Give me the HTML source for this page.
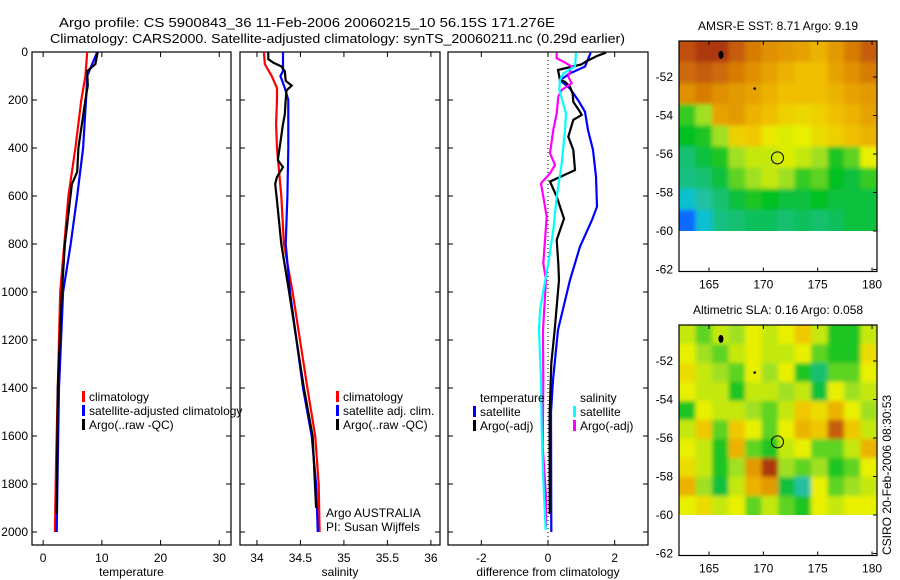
<!DOCTYPE html>
<html><head><meta charset="utf-8"><style>
html,body{margin:0;padding:0;background:#fff;}
svg{display:block;font-family:"Liberation Sans",sans-serif;}
</style></head><body>
<svg id="fig" width="900" height="580" viewBox="0 0 900 580" xmlns="http://www.w3.org/2000/svg">
<defs>
<filter id="blur" x="-5%" y="-5%" width="110%" height="110%"><feGaussianBlur stdDeviation="2.2"/></filter>
<clipPath id="clipTop"><rect x="679" y="41" width="198" height="190"/></clipPath>
<clipPath id="clipBot"><rect x="679" y="325" width="198" height="190"/></clipPath>
</defs>
<text x="59" y="27" font-size="13" text-anchor="start" textLength="496" lengthAdjust="spacingAndGlyphs">Argo profile: CS 5900843_36 11-Feb-2006 20060215_10 56.15S 171.276E</text>
<text x="50" y="43" font-size="13" text-anchor="start" textLength="575" lengthAdjust="spacingAndGlyphs">Climatology: CARS2000. Satellite-adjusted climatology: synTS_20060211.nc (0.29d earlier)</text>
<g id="g"></g>
</svg>
<script>
// ---- profile data ----
const tDepthRed=[0,100,200,400,600,800,1000,1400,1700,2000];
const tRed=[7.5,7.2,6.5,5.5,4.3,3.6,2.9,2.5,2.2,2.0];
const tDepthBlue=[0,100,200,400,600,800,1000,1400,1700,2000];
const tBlue=[9.2,7.5,7.3,6.8,5.8,4.7,3.4,2.7,2.5,2.3];
const tDepthArgo=[0,50,80,140,200,400,500,550,800,1000,1400,1925];
const tArgo=[9.3,8.9,7.5,7.6,7.2,6.0,5.8,4.9,3.7,3.2,2.5,2.3];

const sDepthRed=[0,50,100,150,200,300,400,600,800,1000,1400,1600,1800,2000];
const sRed=[34.08,34.09,34.17,34.23,34.23,34.22,34.23,34.28,34.31,34.41,34.58,34.67,34.71,34.72];
const sDepthBlue=[0,80,100,150,200,400,600,800,1000,1400,1600,1800,2000];
const sBlue=[34.30,34.30,34.27,34.32,34.36,34.36,34.35,34.33,34.38,34.53,34.63,34.68,34.70];
const sDepthArgo=[0,30,45,60,80,120,140,160,200,260,300,400,450,480,520,550,620,800,1000,1400,1600,1900];
const sArgo=[34.13,34.13,34.19,34.28,34.32,34.33,34.40,34.34,34.33,34.32,34.30,34.26,34.24,34.30,34.23,34.21,34.23,34.28,34.37,34.54,34.64,34.68];

const dDepthTSat=[3,61,89,117,152,200,249,325,408,519,644,700,811,950,1158,1367,1500,2000];
const dTSat=[1.28,1.11,0.66,0.36,0.66,0.9,1.11,1.2,1.35,1.44,1.47,1.32,0.96,0.66,0.3,0.15,0.09,0.1];
const dDepthTArgo=[3,17,38,52,75,117,124,145,174,208,249,262,283,353,408,492,540,603,694,783,881,950,1158,1297,1500,1925];
const dTArgo=[1.74,1.46,1.16,1.0,0.3,0.36,0.51,0.66,0.74,0.76,0.96,1.01,0.76,0.61,0.76,0.81,0.06,0.26,0.48,0.26,0.31,0.33,0.2,0.1,0.05,0.05];
const dDepthSSat=[3,61,89,117,158,256,325,464,603,742,881,1075,1158,1367,1575,1783,1992];
const dSSat=[0.84,0.81,0.46,0.36,0.34,0.54,0.51,0.41,0.26,0.16,0.01,-0.24,-0.27,-0.21,-0.19,-0.14,-0.07];
const dDepthSArgo=[3,26,40,61,103,131,158,186,256,325,422,471,506,547,686,881,950,1158,1367,1644,1853,1978];
const dSArgo=[0.26,0.26,0.46,0.71,0.61,0.71,0.41,0.31,0.26,0.16,0.06,0.21,0.06,-0.21,-0.04,-0.14,-0.06,-0.15,-0.14,-0.16,-0.06,-0.06];

const depthTicks=[0,200,400,600,800,1000,1200,1400,1600,1800,2000];
const tTicks=[0,10,20,30];
const sTicks=[34,34.5,35,35.5,36];
const dTicks=[-2,0,2];

// ---- map data (rows north->south, cols west->east) ----
const sstGrid=[
[0.92,0.95,0.95,0.9,0.85,0.82,0.8,0.78,0.75,0.8,0.85,0.9],
[0.88,0.9,0.88,0.85,0.82,0.78,0.75,0.72,0.72,0.78,0.82,0.85],
[0.82,0.85,0.82,0.8,0.78,0.75,0.72,0.72,0.72,0.75,0.78,0.8],
[0.42,0.5,0.78,0.8,0.75,0.72,0.68,0.66,0.68,0.72,0.75,0.78],
[0.38,0.4,0.5,0.68,0.7,0.62,0.58,0.6,0.65,0.68,0.72,0.75],
[0.3,0.35,0.4,0.5,0.55,0.55,0.58,0.55,0.5,0.4,0.45,0.6],
[0.28,0.3,0.35,0.45,0.5,0.55,0.5,0.42,0.45,0.38,0.35,0.42],
[0.2,0.25,0.3,0.35,0.4,0.38,0.35,0.35,0.38,0.35,0.35,0.35],
[0.05,0.2,0.28,0.3,0.32,0.32,0.3,0.32,0.3,0.32,0.35,0.35]];
const slaGrid=[
[0.55,0.45,0.55,0.5,0.6,0.55,0.6,0.7,0.55,0.4,0.4,0.55],
[0.6,0.5,0.45,0.55,0.6,0.55,0.55,0.6,0.45,0.4,0.4,0.65],
[0.65,0.55,0.5,0.45,0.6,0.5,0.6,0.4,0.3,0.45,0.45,0.6],
[0.6,0.55,0.55,0.4,0.55,0.55,0.5,0.55,0.35,0.6,0.5,0.55],
[0.4,0.6,0.55,0.55,0.5,0.45,0.55,0.7,0.65,0.75,0.6,0.5],
[0.55,0.7,0.45,0.7,0.6,0.45,0.6,0.75,0.7,0.9,0.7,0.55],
[0.6,0.55,0.4,0.75,0.45,0.4,0.55,0.6,0.45,0.45,0.55,0.75],
[0.65,0.55,0.4,0.5,0.8,0.95,0.5,0.45,0.5,0.4,0.45,0.6],
[0.75,0.5,0.35,0.55,0.75,0.8,0.35,0.25,0.6,0.45,0.5,0.55],
[0.6,0.65,0.55,0.6,0.45,0.55,0.45,0.4,0.6,0.55,0.6,0.6]];
const lonTicks=[165,170,175,180];
const latTicks=[-52,-54,-56,-58,-60,-62];
const argoLon=171.3, argoLat=-56.2;

const NS="http://www.w3.org/2000/svg";
const G=document.getElementById('g');
function mk(tag,attrs,parent){const e=document.createElementNS(NS,tag);for(const k in attrs)e.setAttribute(k,attrs[k]);(parent||G).appendChild(e);return e;}
function txt(x,y,s,size,anchor,parent){const e=mk('text',{x:x,y:y,'font-size':size||12,'text-anchor':anchor||'middle'},parent);e.textContent=s;return e;}

const PT=52,PB=545;
const yD=d=>PT+d*0.24;

function panel(name,x0,x1,vmin,vmax,ticks,label,showY){
  const g=mk('g',{});
  
  
  const xs=v=>x0+(v-vmin)/(vmax-vmin)*(x1-x0);
  const fr=mk('rect',{x:x0,y:PT,width:x1-x0,height:PB-PT,fill:'none',stroke:'#000','stroke-width':1.2},g);
  
  
  depthTicks.forEach(d=>{
    mk('line',{x1:x0,x2:x0+5,y1:yD(d),y2:yD(d),stroke:'#000'},g);
    mk('line',{x1:x1,x2:x1-5,y1:yD(d),y2:yD(d),stroke:'#000'},g);
    if(showY){const t=txt(x0-4,yD(d)+4,String(d),12,'end',g);
      
      }
  });
  ticks.forEach(v=>{
    mk('line',{x1:xs(v),x2:xs(v),y1:PT,y2:PT+5,stroke:'#000'},g);
    mk('line',{x1:xs(v),x2:xs(v),y1:PB,y2:PB-5,stroke:'#000'},g);
    const t=txt(xs(v),PB+17,String(v),12,'middle',g);
    
    
  });
  const l=txt((x0+x1)/2,PB+31,label,12,'middle',g);
  
  
  return {g,xs};
}
function line(p,depths,vals,color,name,w){
  const pts=depths.map((d,i)=>p.xs(vals[i]).toFixed(1)+','+yD(d).toFixed(1)).join(' ');
  const e=mk('polyline',{points:pts,fill:'none',stroke:color,'stroke-width':w||2.2},p.g);
  
  
}
function legend(p,x,y,items,name){
  const g=mk('g',{},p.g);
  
  
  items.forEach((it,i)=>{
    if(it[1]) mk('rect',{x:x,y:y+i*14-10,width:3,height:11,fill:it[1]},g);
    const t=txt(x+7,y+i*14,it[0],12,'start',g);
    
    
  });
}

// Panel 1
const p1=panel('temperature-panel',32,231,-1.9,32.0,tTicks,'temperature',true);
line(p1,tDepthRed,tRed,'#f00','temp-climatology-line');
line(p1,tDepthBlue,tBlue,'#00f','temp-satellite-line');
line(p1,tDepthArgo,tArgo,'#000','temp-argo-line');
legend(p1,82,401,[['climatology','#f00'],['satellite-adjusted climatology','#00f'],['Argo(..raw -QC)','#000']],'temperature-legend');

// Panel 2
const p2=panel('salinity-panel',240,440,33.805,36.105,sTicks,'salinity',false);
line(p2,sDepthRed,sRed,'#f00','sal-climatology-line');
line(p2,sDepthBlue,sBlue,'#00f','sal-satellite-line');
line(p2,sDepthArgo,sArgo,'#000','sal-argo-line');
legend(p2,336,401,[['climatology','#f00'],['satellite adj. clim.','#00f'],['Argo(..raw -QC)','#000']],'salinity-legend');
const pa=txt(326,517,'Argo AUSTRALIA',12,'start',p2.g);
const pb=txt(326,531,'PI: Susan Wijffels',12,'start',p2.g);

// Panel 3
const p3=panel('difference-panel',448,648,-3.0,3.0,dTicks,'difference from climatology',false);
const z=mk('line',{x1:p3.xs(0),x2:p3.xs(0),y1:PT,y2:PB,stroke:'#000','stroke-dasharray':'1,3'},p3.g);

line(p3,dDepthTSat,dTSat,'#00f','diff-temp-satellite-line');
line(p3,dDepthTArgo,dTArgo,'#000','diff-temp-argo-line');
line(p3,dDepthSArgo,dSArgo,'#f0f','diff-sal-argo-line');
line(p3,dDepthSSat,dSSat,'#0ff','diff-sal-satellite-line');
legend(p3,473,402,[['temperature',null],['satellite','#00f'],['Argo(-adj)','#000']],'diff-temperature-legend');
legend(p3,573,402,[['salinity',null],['satellite','#0ff'],['Argo(-adj)','#f0f']],'diff-salinity-legend');

// colormap
const cstops=[[0,[16,64,255]],[0.15,[0,192,255]],[0.25,[32,192,160]],[0.38,[0,192,32]],[0.5,[160,224,32]],[0.6,[232,240,0]],[0.72,[240,192,0]],[0.82,[224,144,0]],[0.92,[192,80,16]],[1,[144,16,0]]];
function cmap(v){for(let i=1;i<cstops.length;i++){if(v<=cstops[i][0]){const a=cstops[i-1],b=cstops[i],t=(v-a[0])/(b[0]-a[0]);const c=a[1].map((x,k)=>Math.round(x+(b[1][k]-x)*t));return 'rgb('+c.join(',')+')';}}return 'rgb(144,16,0)';}

function mapPanel(name,top,grid,title,clip){
  const g=mk('g',{});
  
  
  const x0=679,x1=877;
  const lx=lon=>709+(lon-165)*10.87;
  const ly=lat=>top+36+(-52-lat)*19.25;
  const gy0=ly(-50.13), gy1=ly(-60);
  const lon0=162.24, lon1=180.45;
  const rows=grid.length, cols=grid[0].length;
  const cg=mk('g',{'clip-path':'url(#'+clip+')'},g);
  const bg=mk('g',{filter:'url(#blur)'},cg);
  grid.forEach((row,r)=>row.forEach((v,c)=>{
    let xa=lx(lon0+(lon1-lon0)*c/cols), xb=lx(lon0+(lon1-lon0)*(c+1)/cols);
    let ya=gy0+(gy1-gy0)*r/rows, yb=gy0+(gy1-gy0)*(r+1)/rows;
    if(c===0)xa-=8; if(c===cols-1)xb+=8; if(r===0)ya-=8; if(r===rows-1)yb+=8;
    const e=mk('rect',{x:xa.toFixed(1),y:ya.toFixed(1),width:(xb-xa+0.6).toFixed(1),height:(yb-ya+0.6).toFixed(1),fill:cmap(v)},bg);
    
    
  }));
  const fr=mk('rect',{x:x0,y:ly(-50.13),width:x1-x0,height:ly(-62)-ly(-50.13)+2,fill:'none',stroke:'#000','stroke-width':1.2},g);
  
  const by=ly(-62)+2;
  lonTicks.forEach(l=>{
    mk('line',{x1:lx(l),x2:lx(l),y1:ly(-50.13),y2:ly(-50.13)+4,stroke:'#000'},g);
    mk('line',{x1:lx(l),x2:lx(l),y1:by,y2:by-4,stroke:'#000'},g);
    const t=txt(lx(l),by+17,String(l),12,'middle',g);
    
  });
  latTicks.forEach(l=>{
    mk('line',{x1:x1,x2:x1-4,y1:ly(l),y2:ly(l),stroke:'#000'},g);
    const t=txt(x0-6,ly(l)+4,String(l),12,'end',g);
    
  });
  mk('ellipse',{cx:lx(166.1),cy:ly(-50.85),rx:2.5,ry:4,fill:'#000'},g);
  mk('circle',{cx:lx(169.2),cy:ly(-52.6),r:1.3,fill:'#000'},g);
  const m=mk('circle',{cx:lx(argoLon),cy:ly(argoLat),r:6,fill:'none',stroke:'#000','stroke-width':1},g);
  
  const t=txt(778,ly(-50.13)-11,title,12,'middle',g);
  
}
mapPanel('sst-map',41,sstGrid,'AMSR-E SST: 8.71 Argo: 9.19','clipTop');
mapPanel('sla-map',325,slaGrid,'Altimetric SLA: 0.16 Argo: 0.058','clipBot');

const cs=txt(0,0,'CSIRO 20-Feb-2006 08:30:53',12,'start');
cs.setAttribute('transform','translate(891,555) rotate(-90)');


</script>
</body></html>
